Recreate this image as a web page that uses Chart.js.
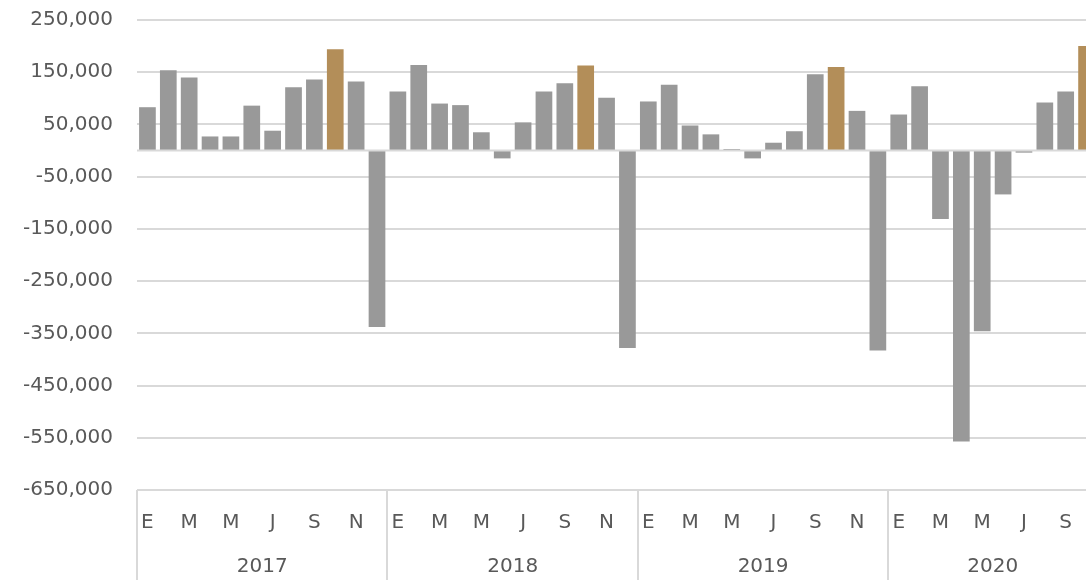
<!DOCTYPE html>
<html>
<head>
<meta charset="utf-8">
<script src="https://cdn.jsdelivr.net/npm/chart.js@4/dist/chart.umd.min.js"></script>
<style>
  html, body { margin: 0; padding: 0; background: #ffffff; overflow: hidden; }
  #chart { display: block; }
</style>
</head>
<body>
<canvas id="chart" width="1097" height="580"></canvas>
<script>
// Month initials (Spanish) for each monthly bar
const monthLetters = ['E','F','M','A','M','J','J','A','S','O','N','D'];
const years = ['2017', '2018', '2019', '2020'];
const monthsPerYear = [12, 12, 12, 10];

// Monthly change, 2017-01 .. 2020-10
const values2017 = [83000, 154000, 140000, 27000, 27000, 86000, 38000, 121000, 136000, 194000, 132000, -338000];
const values2018 = [113000, 164000, 90000, 87000, 35000, -15000, 54000, 113000, 129000, 163000, 101000, -378000];
const values2019 = [94000, 126000, 48000, 31000, 3000, -15000, 15000, 37000, 146000, 160000, 76000, -383000];
const values2020 = [69000, 123000, -131000, -557000, -346000, -84000, -4000, 92000, 113000, 200000];

const yTicks = [250000, 150000, 50000, -50000, -150000, -250000, -350000, -450000, -550000, -650000];

const values = [].concat(values2017, values2018, values2019, values2020);
const labels = [];
monthsPerYear.forEach(n => { for (let m = 0; m < n; m++) labels.push(monthLetters[m]); });

const GRID = '#d9d9d9';
const TEXT = '#595959';
const FONT = "'DejaVu Sans', sans-serif";

// October bars are highlighted
const barColors = labels.map((_, i) => (i % 12 === 9) ? '#b38e59' : '#999999');

// Zero line, year group separators and year labels under the month row
const yearGroups = {
  id: 'yearGroups',
  afterDatasetsDraw(chart) {
    const { ctx, chartArea, scales } = chart;
    const y = scales.y;
    ctx.save();
    ctx.strokeStyle = GRID;
    ctx.lineWidth = 2;
    const y0 = y.getPixelForValue(0);
    ctx.beginPath();
    ctx.moveTo(chartArea.left, y0);
    ctx.lineTo(chartArea.right, y0);
    ctx.stroke();
    ctx.restore();
  },
  afterDraw(chart) {
    const { ctx, chartArea, scales } = chart;
    const x = scales.x;
    const top = chartArea.bottom;
    const bottom = chart.height;
    ctx.save();
    ctx.strokeStyle = GRID;
    ctx.lineWidth = 2;
    let start = 0;
    const bounds = [start];
    monthsPerYear.forEach(n => { start += n; bounds.push(start); });
    bounds.forEach(b => {
      const px = Math.round(x.getPixelForValue(b - 0.5));
      ctx.beginPath();
      ctx.moveTo(px, top);
      ctx.lineTo(px, bottom);
      ctx.stroke();
    });
    ctx.fillStyle = TEXT;
    ctx.font = '20px ' + FONT;
    ctx.textAlign = 'center';
    ctx.textBaseline = 'middle';
    years.forEach((yr, k) => {
      const a = x.getPixelForValue(bounds[k] - 0.5);
      const b = x.getPixelForValue(bounds[k + 1] - 0.5);
      ctx.fillText(yr, (a + b) / 2, 567);
    });
    ctx.restore();
  }
};

new Chart(document.getElementById('chart'), {
  type: 'bar',
  data: {
    labels: labels,
    datasets: [{
      data: values,
      backgroundColor: barColors,
      borderWidth: 0,
      barPercentage: 0.8,
      categoryPercentage: 1.0
    }]
  },
  options: {
    responsive: false,
    animation: false,
    layout: { padding: { top: 20, right: 0, bottom: 0, left: 0 } },
    plugins: { legend: { display: false }, tooltip: { enabled: false } },
    scales: {
      x: {
        type: 'category',
        offset: true,
        grid: { display: false },
        border: { display: false },
        ticks: {
          autoSkip: false,
          maxRotation: 0,
          padding: 13,
          color: TEXT,
          font: { family: FONT, size: 20 },
          callback: (v, i) => (i % 2 === 0 ? labels[i] : '')
        },
        afterFit: s => { s.height = 90; s.paddingLeft = 0; s.paddingRight = 0; }
      },
      y: {
        min: -650000,
        max: 250000,
        afterBuildTicks: s => { s.ticks = yTicks.map(v => ({ value: v })); },
        grid: { color: GRID, lineWidth: 2, drawTicks: false },
        border: { display: false },
        ticks: {
          padding: 24,
          color: TEXT,
          font: { family: FONT, size: 20 },
          callback: v => v.toLocaleString('en-US')
        },
        afterFit: s => { s.width = 137; s.paddingTop = 0; s.paddingBottom = 0; }
      }
    }
  },
  plugins: [yearGroups]
});
</script>
</body>
</html>
